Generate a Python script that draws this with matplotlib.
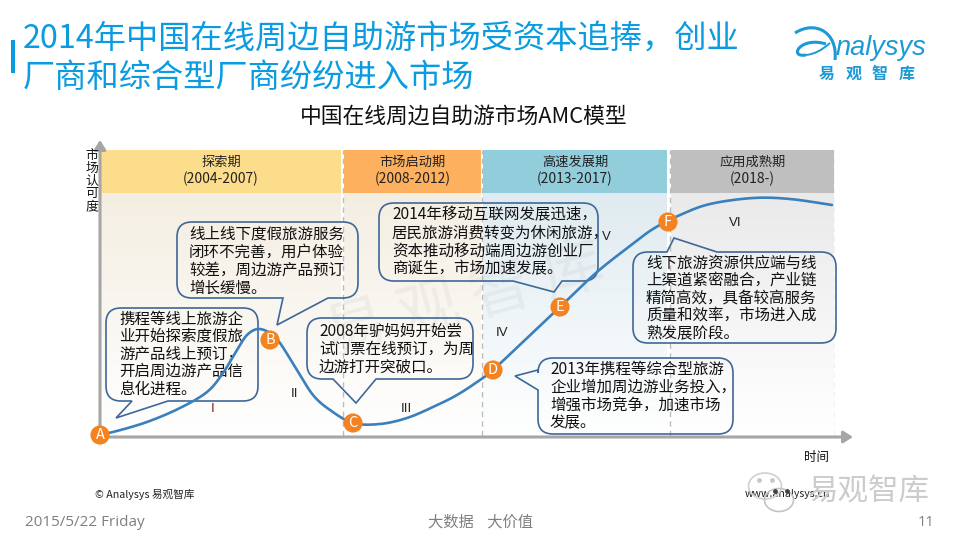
import numpy as np
import matplotlib
matplotlib.use('Agg')
import matplotlib.pyplot as plt
from matplotlib.path import Path
from matplotlib.patches import PathPatch, Ellipse
from matplotlib.colors import LinearSegmentedColormap

plt.rcParams['font.family'] = ['Noto Sans CJK SC', 'DejaVu Sans']

curve_time = [0, 13, 47, 80, 107, 123, 137, 147, 158, 170, 180, 197, 213, 230, 253, 280, 307,
              333, 357, 380, 393, 425, 460, 497, 530, 553, 580, 610, 653, 690, 732]
curve_level = [2, 4, 14, 28, 44, 63, 86, 101, 107, 103, 93, 66, 41, 26, 13, 12, 18,
               29, 41, 56, 66, 96, 129, 164, 190, 207, 221, 232, 238, 237, 231]
stage_names = ['A', 'B', 'C', 'D', 'E', 'F']
stage_time = [0, 170, 253, 393, 460, 568]
stage_level = [1, 96, 13, 66, 129, 214]

phases = ['探索期', '市场启动期', '高速发展期', '应用成熟期']
phase_years = ['(2004-2007)', '(2008-2012)', '(2013-2017)', '(2018-)']
phase_start = [1, 244, 383, 571]
phase_end = [241, 381, 567, 734]
phase_colors = ['#FBDD8B', '#FDB05E', '#92CDDC', '#BFBFBF']
phase_tints = ['#F4EEE2', '#F4EEE2', '#DFEBF0', '#EAEAEA']
dash_time = [243, 382, 570, 735]

numerals = ['I', 'II', 'III', 'IV', 'V', 'VI']
numeral_time = [113, 195, 306, 402, 506, 635]
numeral_level = [27, 42, 27, 103, 199, 213]

callout_lines = [
    ['携程等线上旅游企', '业开始探索度假旅', '游产品线上预订，', '开启周边游产品信', '息化进程。'],
    ['线上线下度假旅游服务', '闭环不完善，用户体验', '较差，周边游产品预订', '增长缓慢。'],
    ['2008年驴妈妈开始尝', '试门票在线预订，为周', '边游打开突破口。'],
    ['2014年移动互联网发展迅速，', '居民旅游消费转变为休闲旅游，', '资本推动移动端周边游创业厂', '商诞生，市场加速发展。'],
    ['线下旅游资源供应端与线', '上渠道紧密融合，产业链', '精简高效，具备较高服务', '质量和效率，市场进入成', '熟发展阶段。'],
    ['2013年携程等综合型旅游', '企业增加周边游业务投入，', '增强市场竞争，加速市场', '发展。'],
]
# box: left, top, right, bottom; tail: first base point, tip, second base point
callout_boxes = [(106, 308, 258, 401), (177, 222, 358, 298), (307, 318, 473, 379),
                 (379, 203, 598, 281), (633, 252, 836, 343), (538, 358, 733, 434)]
callout_tails = [[(168, 401), (116, 418), (132, 401)], [(328, 298), (277, 325), (283, 298)],
                 [(376, 379), (356, 403), (333, 379)], [(562, 281), (554, 292), (513, 281)],
                 [(667, 252), (674, 238), (717, 252)], [(538, 390), (515, 376), (538, 370)]]
callout_sides = ['bottom', 'bottom', 'bottom', 'bottom', 'top', 'left']
callout_text_x = [119, 189, 319, 392, 646, 550]
callout_text_y = [319, 234, 331, 215, 263, 369]
callout_step = [17.5, 18, 18, 18, 17.5, 18]

logo_chars = ['易', '观', '智', '库']
logo_char_x = [827, 854, 880, 907]


def smooth(xs, ys, n=16):
    # catmull-rom through the points
    p = np.column_stack([xs, ys]).astype(float)
    p = np.vstack([p[0], p, p[-1]])
    out = []
    for i in range(1, len(p) - 2):
        t = np.linspace(0, 1, n, endpoint=False)[:, None]
        out.append(0.5 * (2 * p[i] + (p[i + 1] - p[i - 1]) * t
                          + (2 * p[i - 1] - 5 * p[i] + 4 * p[i + 1] - p[i + 2]) * t ** 2
                          + (3 * p[i] - p[i - 1] - 3 * p[i + 1] + p[i + 2]) * t ** 3))
    out.append(p[-2][None])
    return np.vstack(out)


def callout_path(box, tail, side, r=15):
    l, t, r_, b = box
    v = [(l + r, t)]
    c = [Path.MOVETO]
    def line(pt):
        v.append(pt)
        c.append(Path.LINETO)
    def corner(a, e):
        v.extend([a, e])
        c.extend([Path.CURVE3, Path.CURVE3])
    if side == 'top':
        for q in tail:
            line(q)
    line((r_ - r, t))
    corner((r_, t), (r_, t + r))
    line((r_, b - r))
    corner((r_, b), (r_ - r, b))
    if side == 'bottom':
        for q in tail:
            line(q)
    line((l + r, b))
    corner((l, b), (l, b - r))
    if side == 'left':
        for q in tail:
            line(q)
    line((l, t + r))
    corner((l, t), (l + r, t))
    return Path(v, c)


fig = plt.figure(figsize=(9.6, 5.4), dpi=100)

# page layer in pixels, for everything around the chart
page = fig.add_axes([0, 0, 1, 1], zorder=1)
page.set_xlim(0, 960)
page.set_ylim(540, 0)
page.axis('off')

blue = '#0A9BE0'
page.fill_between([11, 14.5], 40, 73, color=blue, lw=0)
page.text(23, 39, '2014年中国在线周边自助游市场受资本追捧，创业', fontsize=23.2, color=blue, va='center')
page.text(23, 78, '厂商和综合型厂商纷纷进入市场', fontsize=23.2, color=blue, va='center')
page.text(464, 117, '中国在线周边自助游市场AMC模型', fontsize=15.7, color='#111111', ha='center', va='center')

# logo
logo = '#1C9AD6'
curve3 = [Path.MOVETO, Path.CURVE4, Path.CURVE4, Path.CURVE4]
page.add_patch(PathPatch(Path([(795, 33), (815, 20), (838, 32), (835, 60)], curve3),
                         fill=False, edgecolor=logo, lw=2.2))
page.add_patch(PathPatch(Path([(826, 44), (800, 36), (788, 58), (806, 55)], curve3),
                         fill=False, edgecolor=logo, lw=2.2))
page.add_patch(PathPatch(Path([(806, 55), (815, 54), (822, 50), (830, 43)], curve3),
                         fill=False, edgecolor=logo, lw=1.4))
page.text(836, 48, 'nalysys', fontsize=19.5, color=logo, style='italic',
          family=['Liberation Sans'], va='center')
for ch, x in zip(logo_chars, logo_char_x):
    page.text(x, 74, ch, fontsize=11.5, color=logo, weight='bold', ha='center', va='center')

# footer
gray = '#7F7F7F'
page.text(25, 523, '2015/5/22 Friday', fontsize=11, color=gray, family=['Open Sans'], va='center')
page.text(480, 522, '大数据    大价值', fontsize=11, color=gray, ha='center', va='center')
page.text(934, 523, '11', fontsize=10.5, color=gray, family=['Open Sans'], ha='right', va='center')
page.text(95, 494, '© Analysys 易观智库', fontsize=7.7, color='#222222', va='center')
page.text(745, 494, 'www.analysys.cn', fontsize=7.6, color='#222222', va='center')
page.text(869, 492, '易观智库', fontsize=22, color='#CCCCCC', ha='center', va='center', zorder=5)
page.add_patch(Ellipse((765, 486), 33, 26, fill=False, edgecolor='#D0D0D0', lw=1.2, zorder=5))
page.add_patch(Ellipse((779, 500), 29, 23, fill=False, edgecolor='#C4C4C4', lw=1.2, zorder=5))
page.scatter([759, 772], [480, 480], s=6, color='#C8C8C8', zorder=5)
page.scatter([775, 787], [491, 491], s=6, color='#444444', zorder=5)

# chart, one unit is one pixel from the axis origin
ax = fig.add_axes([100 / 960, (540 - 436) / 540, 735 / 960, 290 / 540], zorder=2)
ax.patch.set_alpha(0)
for s in ax.spines.values():
    s.set_visible(False)
ax.set_xticks([])
ax.set_yticks([])

head_low, head_high = 243, 286
for name, years, t0, t1, col, tint in zip(phases, phase_years, phase_start, phase_end, phase_colors, phase_tints):
    ramp = LinearSegmentedColormap.from_list('r', ['#FFFFFF', tint])
    ax.imshow(np.linspace(1, 0, 64)[:, None], cmap=ramp, extent=(t0, t1, 0, head_low),
              aspect='auto', vmin=0, vmax=1, zorder=1)
    ax.fill_between([t0, t1], head_low, head_high, color=col, lw=0, zorder=1.2)
    mid = (t0 + t1) / 2
    ax.text(mid, 274, name, fontsize=9.5, color='#222222', ha='center', va='center', zorder=2)
    ax.text(mid, 257, years, fontsize=10, color='#222222', ha='center', va='center', zorder=2)
ax.set_xlim(0, 735)
ax.set_ylim(0, 290)

ax.vlines(dash_time, 0, head_high, color='#BDBDBD', lw=1, linestyles=(0, (4, 3)), zorder=1.5)

ax.annotate('', xy=(0, 296), xytext=(0, -1), annotation_clip=False, zorder=3,
            arrowprops=dict(arrowstyle='-|>,head_width=0.35,head_length=0.55', color='#A6A6A6', lw=2.2,
                            shrinkA=0, shrinkB=0))
ax.annotate('', xy=(753, -1), xytext=(-1, -1), annotation_clip=False, zorder=3,
            arrowprops=dict(arrowstyle='-|>,head_width=0.35,head_length=0.55', color='#A6A6A6', lw=2.2,
                            shrinkA=0, shrinkB=0))

# faint watermark across the middle of the chart
ax.text(365, 135, '易 观 智 库', fontsize=44, color='#9A9A9A', alpha=0.1, rotation=15,
        ha='center', va='center', zorder=2)

for box, tail, side, lines, tx, ty, step in zip(callout_boxes, callout_tails, callout_sides, callout_lines,
                                                callout_text_x, callout_text_y, callout_step):
    ax.add_patch(PathPatch(callout_path(box, tail, side), fill=False,
                           edgecolor='#3F6797', lw=1.2, transform=page.transData, clip_on=False, zorder=3))
    for i, line in enumerate(lines):
        ax.text(tx, ty + i * step, line, fontsize=11.2, color='#111111', va='center',
                transform=page.transData, clip_on=False, zorder=3.2)

xy = smooth(curve_time, curve_level)
ax.plot(xy[:, 0], xy[:, 1], color='#3A80BC', lw=1.9, solid_capstyle='round', zorder=4)
ax.scatter(stage_time, stage_level, s=190, color='#F58220', edgecolors='none', clip_on=False, zorder=5)
for name, t, v in zip(stage_names, stage_time, stage_level):
    ax.text(t, v, name, fontsize=10.5, color='white', ha='center', va='center', zorder=6)

for name, t, v in zip(numerals, numeral_time, numeral_level):
    ax.text(t, v, name, fontsize=9.5, color='#7F2020' if name == 'I' else '#222222',
            ha='center', va='center', zorder=3.5, family=['Liberation Sans'])

for i, ch in enumerate('市场认可度'):
    ax.text(-8, 281 - i * 13, ch, fontsize=9.3, color='#111111', ha='center', va='center', clip_on=False, zorder=3)
ax.text(717, -21, '时间', fontsize=9, color='#111111', ha='center', va='center', clip_on=False, zorder=3)

fig.savefig('out.png', dpi=100)
plt.close(fig)
